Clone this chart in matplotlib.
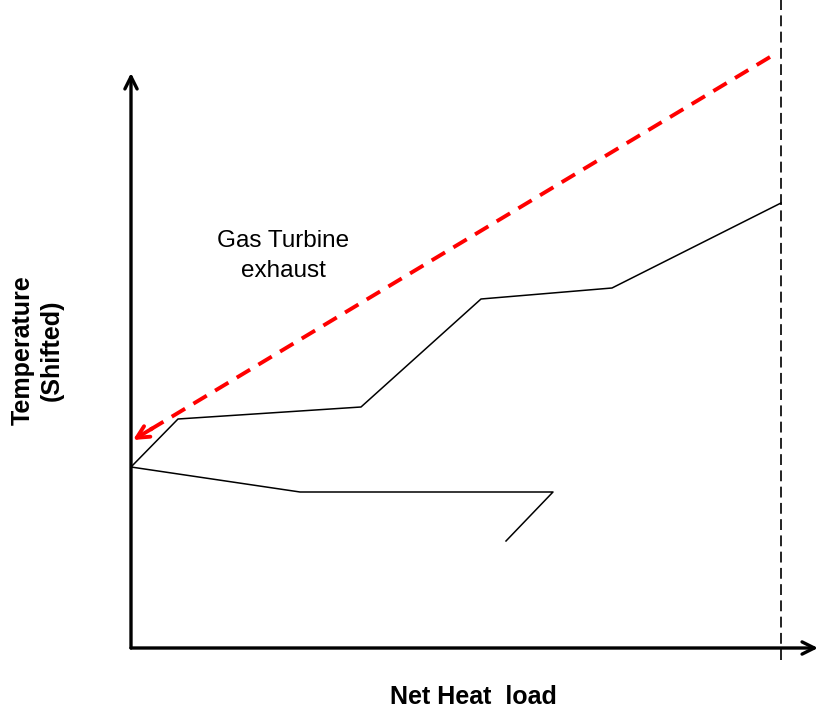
import matplotlib
matplotlib.use("Agg")
import matplotlib.pyplot as plt

plt.rcParams['font.family'] = ['Liberation Sans', 'DejaVu Sans']

# Data (arbitrary units, origin at axes corner)
upper_x = [0, 47, 230, 350, 481, 650]
upper_y = [181, 229, 241, 349, 360, 445]
lower_x = [0, 169, 422, 375]
lower_y = [181, 156, 156, 107]
gt_start = (639, 591)
gt_end = (2, 208)
pinch_x = 650

fig = plt.figure(figsize=(8.18, 7.10), dpi=100)
ax = fig.add_axes([0, 0, 1, 1])
ax.set_xlim(-131, 687)
ax.set_ylim(-62, 648)
ax.axis('off')

# Axes arrows
ax.annotate('', xy=(0, 575), xytext=(0, 0),
            arrowprops=dict(arrowstyle='->', lw=2.4, color='black',
                            mutation_scale=22, shrinkA=0, shrinkB=0))
ax.annotate('', xy=(687, 0), xytext=(0, 0),
            arrowprops=dict(arrowstyle='->', lw=2.4, color='black',
                            mutation_scale=22, shrinkA=0, shrinkB=0))

# Vertical dashed line
ax.plot([pinch_x, pinch_x], [-12, 648], color='#111111', lw=1.3,
        linestyle=(0, (6, 3)))

# Composite curves
ax.plot(upper_x, upper_y, color='black', lw=1.1)
ax.plot(lower_x, lower_y, color='black', lw=1.1)

# Gas turbine exhaust (red dashed line + solid arrow head)
fx = gt_end[0] + (gt_start[0] - gt_end[0]) * 0.02
fy = gt_end[1] + (gt_start[1] - gt_end[1]) * 0.02
ax.plot([gt_start[0], fx], [gt_start[1], fy], color='#ff0000', lw=2.8,
        linestyle=(0, (4, 2.5)), solid_capstyle='butt', dash_capstyle='butt')
ax.annotate('', xy=gt_end, xytext=(gt_end[0] + (gt_start[0] - gt_end[0]) * 0.03,
                                   gt_end[1] + (gt_start[1] - gt_end[1]) * 0.03),
            arrowprops=dict(arrowstyle='->', lw=2.8, color='#ff0000',
                            mutation_scale=22, shrinkA=0, shrinkB=0))

ax.text(152, 392, 'Gas Turbine\nexhaust', ha='center', va='center',
        fontsize=17.5, linespacing=1.45)
ax.text(-94, 298, 'Temperature\n(Shifted)', ha='center', va='center',
        fontsize=18, fontweight='bold', rotation=90, linespacing=1.25)
ax.text(342, -49, 'Net Heat  load', ha='center', va='center',
        fontsize=18, fontweight='bold')

fig.savefig('out.png', dpi=100)
